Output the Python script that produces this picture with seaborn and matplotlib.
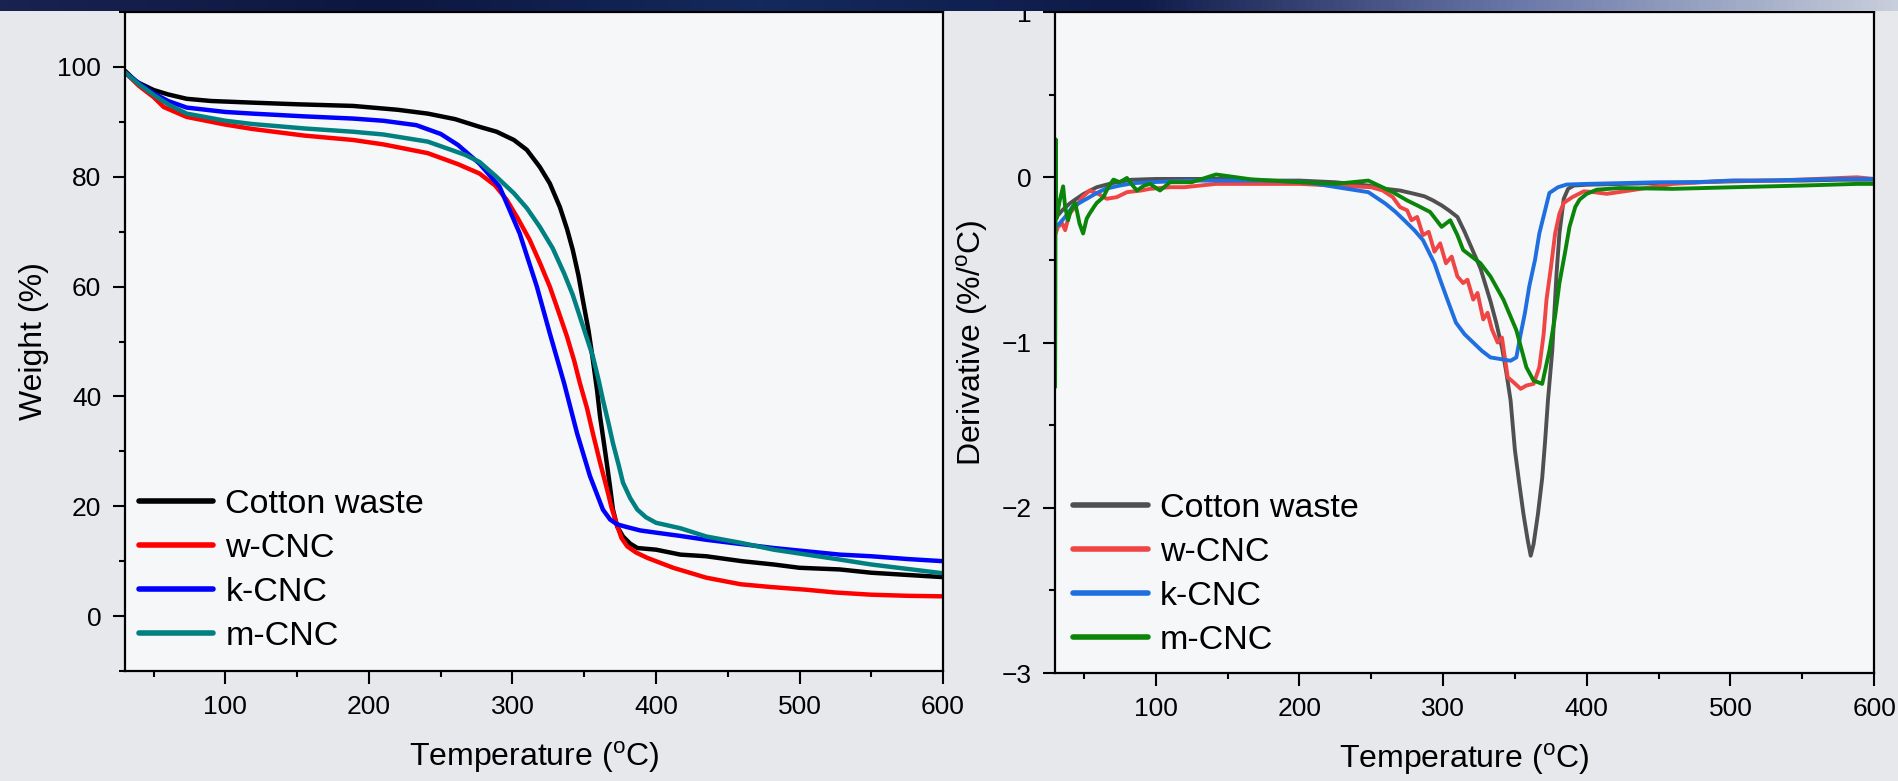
import numpy as np
import pandas as pd
import seaborn as sns
import matplotlib.pyplot as plt
from matplotlib.ticker import MultipleLocator
from matplotlib.colors import LinearSegmentedColormap

# ---- TGA (weight %) ----
cw_t = [30, 38, 50, 60, 73, 90, 119, 150, 189, 220, 241, 260, 277, 289, 301, 310, 319, 326, 333, 338,
        342, 346, 349, 353, 356, 359, 361, 364, 366, 368, 370, 373, 377, 382, 387, 400, 417, 435, 460, 482,
        500, 528, 550, 575, 600]
cw_w = [99.3, 97.3, 95.8, 95.0, 94.2, 93.8, 93.5, 93.2, 92.9, 92.2, 91.5, 90.5, 89.1, 88.2, 86.7, 84.9, 81.8, 78.8, 74.5, 70.5,
        66.7, 62.0, 57.6, 52.0, 46.7, 41.0, 36.4, 31.0, 27.3, 23.5, 19.4, 16.3, 14.5, 13.2, 12.4, 12.1, 11.2, 10.9, 10.0, 9.4,
        8.8, 8.5, 7.9, 7.5, 7.1]

wc_t = [30, 40, 50, 57, 73, 100, 119, 155, 189, 210, 241, 262, 277, 288, 296, 304, 312, 319, 326, 332,
        338, 343, 347, 352, 356, 361, 366, 369, 373, 376, 380, 386, 394, 400, 412, 435, 459, 480, 505, 525,
        550, 575, 600]
wc_w = [99.0, 96.5, 94.5, 92.7, 90.9, 89.5, 88.7, 87.5, 86.7, 85.9, 84.3, 82.3, 80.6, 78.4, 75.8, 72.3, 68.5, 64.4, 60.0, 55.5,
        50.9, 46.5, 42.4, 37.8, 33.3, 28.0, 23.0, 19.8, 16.4, 14.2, 12.7, 11.6, 10.6, 10.0, 8.8, 7.0, 5.8, 5.3, 4.8, 4.3,
        3.9, 3.7, 3.6]

kc_t = [30, 40, 50, 60, 73, 100, 119, 155, 189, 210, 233, 250, 262, 277, 291, 305, 317, 326, 336, 345,
        354, 363, 368, 373, 380, 389, 400, 417, 435, 460, 482, 505, 528, 550, 575, 600]
kc_w = [99.0, 97.0, 95.2, 93.8, 92.6, 91.8, 91.5, 91.0, 90.6, 90.2, 89.4, 87.8, 85.8, 82.4, 78.2, 69.7, 60.0, 51.5, 42.4, 33.3,
        25.5, 19.4, 17.6, 16.7, 16.2, 15.6, 15.2, 14.6, 13.9, 13.1, 12.4, 11.8, 11.2, 10.9, 10.4, 10.0]

mc_t = [30, 40, 50, 60, 73, 100, 119, 155, 189, 210, 241, 267, 277, 288, 301, 310, 319, 328, 336, 342,
        347, 352, 356, 360, 363, 367, 370, 374, 377, 382, 387, 393, 400, 417, 435, 460, 482, 505, 528, 550,
        575, 600]
mc_w = [99.0, 96.8, 94.9, 93.2, 91.5, 90.2, 89.6, 88.8, 88.2, 87.7, 86.4, 84.0, 82.7, 80.2, 77.0, 74.3, 70.9, 67.0, 62.4, 58.5,
        54.5, 50.5, 47.3, 43.0, 39.4, 35.0, 31.5, 27.5, 24.3, 21.5, 19.4, 18.0, 17.0, 16.0, 14.5, 13.3, 12.1, 11.2, 10.3, 9.4,
        8.6, 7.8]

# ---- DTG (derivative %/oC) ----
cw_dt = [30, 35, 40, 44, 50, 59, 70, 83, 100, 125, 150, 175, 200, 225, 248, 260, 270, 280, 287, 293,
         299, 304, 310, 315, 320, 326, 333, 337, 341, 344, 347, 350, 353, 356, 359, 361, 363, 366, 369, 371,
         373, 376, 379, 381, 384, 387, 391, 400, 425, 450, 475, 500, 525, 550, 575, 600]
cw_d = [-0.25, -0.2, -0.16, -0.135, -0.1, -0.06, -0.035, -0.015, -0.01, -0.01, -0.01, -0.02, -0.02, -0.03, -0.05, -0.07, -0.08, -0.1, -0.115, -0.14,
        -0.17, -0.2, -0.24, -0.33, -0.43, -0.55, -0.75, -0.88, -1.03, -1.18, -1.35, -1.65, -1.85, -2.04, -2.20, -2.29, -2.22, -2.04, -1.82, -1.60,
        -1.35, -1.05, -0.58, -0.34, -0.13, -0.07, -0.05, -0.045, -0.04, -0.035, -0.03, -0.025, -0.02, -0.02, -0.015, -0.015]

wc_dt = [30, 32, 35, 37, 40, 45, 49, 54, 60, 66, 73, 80, 90, 96, 110, 120, 142, 166, 200, 225,
         250, 258, 265, 270, 275, 278, 282, 286, 290, 294, 298, 302, 306, 310, 314, 317, 321, 324, 328, 331,
         334, 338, 341, 345, 349, 354, 358, 363, 367, 370, 372, 375, 378, 381, 384, 390, 398, 405, 414, 430,
         460, 480, 503, 530, 560, 588, 600]
wc_d = [-0.35, -0.30, -0.28, -0.32, -0.22, -0.17, -0.12, -0.08, -0.10, -0.13, -0.12, -0.09, -0.08, -0.07, -0.06, -0.06, -0.04, -0.04, -0.04, -0.05,
        -0.06, -0.08, -0.12, -0.18, -0.20, -0.26, -0.24, -0.35, -0.33, -0.45, -0.40, -0.52, -0.48, -0.60, -0.64, -0.62, -0.74, -0.70, -0.86, -0.82,
        -0.92, -1.0, -0.97, -1.21, -1.24, -1.28, -1.26, -1.25, -1.15, -0.95, -0.74, -0.55, -0.34, -0.22, -0.155, -0.12, -0.085, -0.09, -0.10, -0.08,
        -0.04, -0.03, -0.02, -0.02, -0.01, 0.0, -0.01]

kc_dt = [30, 33, 37, 42, 46, 51, 58, 65, 75, 85, 96, 125, 150, 175, 205, 226, 248, 260, 267, 273,
         280, 286, 290, 294, 298, 303, 309, 315, 321, 327, 333, 340, 347, 351, 354, 357, 360, 364, 367, 371,
         374, 380, 386, 400, 425, 450, 475, 500, 525, 550, 575, 600]
kc_d = [-0.30, -0.28, -0.24, -0.18, -0.16, -0.135, -0.10, -0.07, -0.05, -0.035, -0.03, -0.02, -0.02, -0.02, -0.03, -0.06, -0.09, -0.16, -0.21, -0.26,
        -0.32, -0.38, -0.45, -0.52, -0.62, -0.74, -0.88, -0.95, -1.0, -1.05, -1.09, -1.10, -1.11, -1.09, -0.95, -0.82, -0.66, -0.50, -0.34, -0.2,
        -0.095, -0.06, -0.044, -0.04, -0.035, -0.03, -0.03, -0.02, -0.02, -0.015, -0.01, -0.01]

mc_dt = [30, 30.2, 30.4, 30.6, 31, 33, 35.6, 37, 39, 41, 44, 47, 49.5, 52, 54, 57, 59, 63.6, 67, 70.6,
         75, 80, 84, 87, 92, 96, 103, 110, 125, 142, 166, 200, 225, 248, 265, 275, 282, 291, 299, 305,
         310, 314, 320, 326, 333, 342, 351, 358, 363, 369, 374, 378, 381, 385, 388, 392, 395, 400, 407, 423,
         460, 503, 550, 588, 600]
mc_d = [-1.27, -0.70, 0.23, -0.10, -0.25, -0.15, -0.055, -0.18, -0.26, -0.20, -0.155, -0.28, -0.34, -0.25, -0.22, -0.18, -0.155, -0.12, -0.06, -0.014,
        -0.03, -0.004, -0.05, -0.08, -0.05, -0.04, -0.08, -0.03, -0.03, 0.017, -0.012, -0.03, -0.04, -0.02, -0.09, -0.14, -0.17, -0.21, -0.30, -0.26,
        -0.35, -0.44, -0.48, -0.52, -0.60, -0.74, -0.925, -1.15, -1.23, -1.25, -1.05, -0.84, -0.64, -0.45, -0.30, -0.18, -0.135, -0.1, -0.075, -0.065,
        -0.07, -0.06, -0.05, -0.04, -0.04]

labels = ["Cotton waste", "w-CNC", "k-CNC", "m-CNC"]
tga_colors = ["#000000", "#ff0000", "#0000ff", "#008080"]
dtg_colors = ["#505050", "#f04545", "#1f6fe0", "#0a850a"]

sns.set_theme(style="white")
plt.rcParams["font.family"] = ["Liberation Sans", "DejaVu Sans"]
plt.rcParams["mathtext.fontset"] = "custom"
plt.rcParams["mathtext.rm"] = "Liberation Sans"
for k in ("text.color", "axes.labelcolor", "xtick.color", "ytick.color"):
    plt.rcParams[k] = "black"

fig = plt.figure(figsize=(18.99, 7.81), dpi=100, facecolor="#e6e8eb")
ax1 = fig.add_axes([0.0658, 0.1408, 0.4308, 0.8438])
ax2 = fig.add_axes([0.5556, 0.1382, 0.4313, 0.8464])

tga_sets = [(cw_t, cw_w), (wc_t, wc_w), (kc_t, kc_w), (mc_t, mc_w)]
dtg_sets = [(cw_dt, cw_d), (wc_dt, wc_d), (kc_dt, kc_d), (mc_dt, mc_d)]

for (t, w), lab, col in zip(tga_sets, labels, tga_colors):
    sns.lineplot(x=t, y=w, ax=ax1, color=col, lw=3.2, label=lab,
                 estimator=None, sort=False)
for (t, d), lab, col in zip(dtg_sets, labels, dtg_colors):
    sns.lineplot(x=t, y=d, ax=ax2, color=col, lw=2.8, label=lab,
                 estimator=None, sort=False)

lab_font = 23
tick_font = 19

ax1.set_xlim(30, 600)
ax1.set_ylim(-10, 110)
ax1.set_xticks([100, 200, 300, 400, 500, 600])
ax1.set_yticks([0, 20, 40, 60, 80, 100])
ax1.yaxis.set_minor_locator(MultipleLocator(10))
ax1.set_ylabel("Weight (%)", fontsize=lab_font, labelpad=6)

ax2.set_xlim(30, 600)
ax2.set_ylim(-3, 1)
ax2.set_xticks([100, 200, 300, 400, 500, 600])
ax2.set_yticks([-3, -2, -1, 0, 1])
ax2.yaxis.set_minor_locator(MultipleLocator(0.5))
ax2.set_ylabel("Derivative (%/$^{\\mathrm{o}}$C)", fontsize=lab_font, labelpad=8)

legend_anchor = {ax1: (0.0, 0.297), ax2: (0.005, 0.293)}

for ax in (ax1, ax2):
    ax.set_facecolor("#f6f7f8")
    ax.xaxis.set_minor_locator(MultipleLocator(50))
    ax.set_xlabel("Temperature ($^{\\mathrm{o}}$C)", fontsize=lab_font, labelpad=15)
    ax.tick_params(axis="both", which="major", direction="out", length=9, width=1.5,
                   labelsize=tick_font, pad=8, bottom=True, left=True)
    ax.tick_params(axis="both", which="minor", direction="out", length=4.5, width=1.5,
                   bottom=True, left=True)
    for s in ax.spines.values():
        s.set_linewidth(1.6)
        s.set_color("black")
    leg = ax.legend(loc="upper left", frameon=False, fontsize=24.5, handlelength=2.2,
                    handletextpad=0.35, labelspacing=0.38, borderaxespad=0.0,
                    bbox_to_anchor=legend_anchor[ax])
    for h in leg.get_lines():
        h.set_linewidth(4)

# dark banner along the top edge
band = fig.add_axes([0, 1 - 11 / 781, 1, 11 / 781], zorder=10)
cmap = LinearSegmentedColormap.from_list(
    "band", ["#1a2350", "#0d1640", "#142a5c", "#0e1a48", "#6a78a8", "#c8cedc"])
band.imshow(np.linspace(0, 1, 256)[None, :], aspect="auto", cmap=cmap)
band.set_axis_off()

fig.savefig("out.png", dpi=100, facecolor=fig.get_facecolor())
